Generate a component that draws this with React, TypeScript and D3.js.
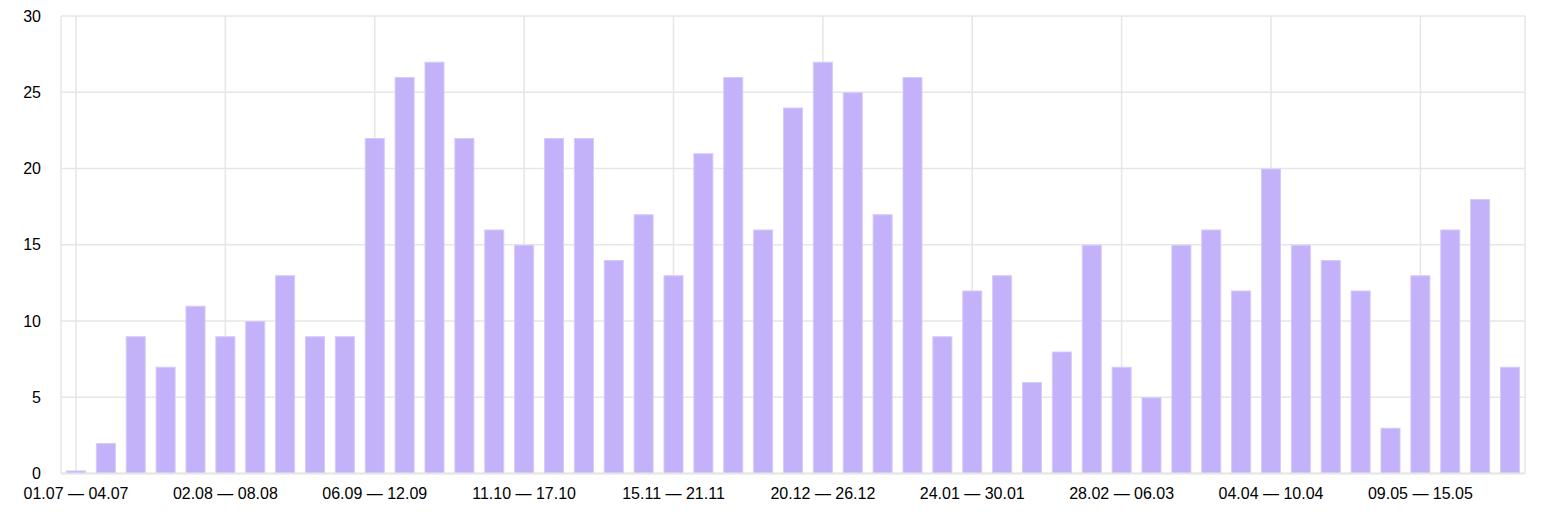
import React from "react";
import * as d3 from "d3";

const weeks: string[] = [
  "01.07 — 04.07","05.07 — 11.07","12.07 — 18.07","19.07 — 25.07","26.07 — 01.08",
  "02.08 — 08.08","09.08 — 15.08","16.08 — 22.08","23.08 — 29.08","30.08 — 05.09",
  "06.09 — 12.09","13.09 — 19.09","20.09 — 26.09","27.09 — 03.10","04.10 — 10.10",
  "11.10 — 17.10","18.10 — 24.10","25.10 — 31.10","01.11 — 07.11","08.11 — 14.11",
  "15.11 — 21.11","22.11 — 28.11","29.11 — 05.12","06.12 — 12.12","13.12 — 19.12",
  "20.12 — 26.12","27.12 — 02.01","03.01 — 09.01","10.01 — 16.01","17.01 — 23.01",
  "24.01 — 30.01","31.01 — 06.02","07.02 — 13.02","14.02 — 20.02","21.02 — 27.02",
  "28.02 — 06.03","07.03 — 13.03","14.03 — 20.03","21.03 — 27.03","28.03 — 03.04",
  "04.04 — 10.04","11.04 — 17.04","18.04 — 24.04","25.04 — 01.05","02.05 — 08.05",
  "09.05 — 15.05","16.05 — 22.05","23.05 — 29.05","30.05 — 05.06",
];

const counts: number[] = [
  0.2, 2, 9, 7, 11, 9, 10, 13, 9, 9,
  22, 26, 27, 22, 16, 15, 22, 22, 14, 17,
  13, 21, 26, 16, 24, 27, 25, 17, 26, 9,
  12, 13, 6, 8, 15, 7, 5, 15, 16, 12,
  20, 15, 14, 12, 3, 13, 16, 18, 7,
];

const yTicks: number[] = [0, 5, 10, 15, 20, 25, 30];

export default function App() {
  const W = 1549, H = 517;
  const left = 61, right = 1525, top = 16, bottom = 473.5;
  const x = d3.scaleBand<string>()
    .domain(weeks)
    .range([left, right])
    .paddingInner(0.3305)
    .paddingOuter(0.167);
  const y = d3.scaleLinear().domain([0, 30]).range([bottom, top]);
  const bw = x.bandwidth();
  const font = "'Liberation Sans', Arial, sans-serif";
  const gridColor = "#e6e6e6";
  const labeled = weeks.filter((_, i) => i % 5 === 0);

  return (
    <svg width={W} height={H} style={{ position: "absolute", left: 0, top: 0 }} fontFamily={font}>
      <rect x={0} y={0} width={W} height={H} fill="#fff" />
      {yTicks.map((t) => (
        <line key={"hg" + t} x1={left} x2={right} y1={y(t)} y2={y(t)} stroke={gridColor} strokeWidth={1.5} />
      ))}
      {labeled.map((w) => (
        <line key={"vg" + w} x1={x(w)! + bw / 2} x2={x(w)! + bw / 2} y1={top} y2={bottom} stroke={gridColor} strokeWidth={1.5} />
      ))}
      <line x1={left} x2={left} y1={top} y2={bottom} stroke={gridColor} strokeWidth={1.5} />
      <line x1={right} x2={right} y1={top} y2={bottom} stroke={gridColor} strokeWidth={1.5} />
      {weeks.map((w, i) => (
        <rect key={"b" + i} x={x(w)! + 0.5} y={y(counts[i]) + 0.5} width={bw - 1}
          height={Math.max(0, y(0) - y(counts[i]) - 0.5)} fill="#c3b1f9" stroke="#d6c9fb" strokeWidth={1} />
      ))}
      <line x1={left} x2={right} y1={bottom} y2={bottom} stroke={gridColor} strokeWidth={2} />
      {yTicks.map((t) => (
        <text key={"yl" + t} x={41} y={y(t)} dy="0.35em" textAnchor="end" fontSize={16} fill="#000">{t}</text>
      ))}
      {labeled.map((w) => (
        <text key={"xl" + w} x={x(w)! + bw / 2} y={499} textAnchor="middle" fontSize={16} fill="#000">{w}</text>
      ))}
    </svg>
  );
}
